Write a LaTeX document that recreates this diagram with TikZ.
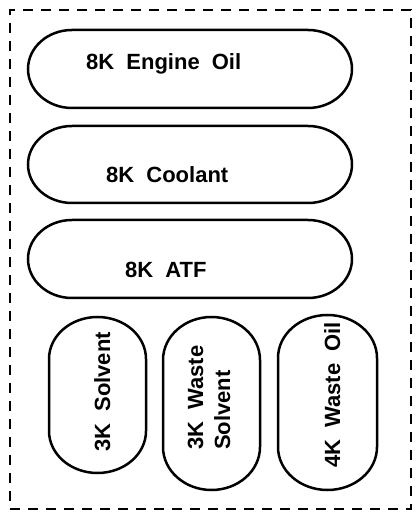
\documentclass[tikz,border=0pt]{standalone}
\usepackage{fontspec}
\setmainfont{Liberation Sans}
\usetikzlibrary{calc}
\newcommand{\tankfont}{\bfseries\fontsize{22}{27}\selectfont\spaceskip 0.55em plus 0.1em\relax}
\tikzset{
  frame/.style={draw,line width=2.8pt,dash pattern=on 10pt off 8pt,inner sep=0pt,outer sep=0pt},
  tank/.style={inner sep=0pt,outer sep=0pt},
  tankline/.style={line width=2.5pt},
  tanklabel/.style={inner sep=0pt,font=\tankfont}
}
% outline of a tank: node name, end x radius, end y radius
\newcommand{\tankoutline}[3]{%
  \draw[tankline] ($(#1.north west)+(#2pt,0)$) -- ($(#1.north east)+(-#2pt,0)$)
    arc[start angle=90,end angle=0,x radius=#2pt,y radius=#3pt]
    -- ($(#1.south east)+(0,#3pt)$)
    arc[start angle=0,end angle=-90,x radius=#2pt,y radius=#3pt]
    -- ($(#1.south west)+(#2pt,0)$)
    arc[start angle=270,end angle=180,x radius=#2pt,y radius=#3pt]
    -- ($(#1.north west)+(0,-#3pt)$)
    arc[start angle=180,end angle=90,x radius=#2pt,y radius=#3pt] -- cycle;}
\begin{document}
\begin{tikzpicture}[x=1pt,y=1pt]
  \useasboundingbox (0,0) rectangle (417,518);
  \node[frame,minimum width=401pt,minimum height=499pt] (box) at (210.5,258.5) {};
  % large tanks
  \node[tank,minimum width=324pt,minimum height=78pt] (t1) at (190,449) {};
  \node[tank,minimum width=324pt,minimum height=77pt] (t2) at (190,353.5) {};
  \node[tank,minimum width=324pt,minimum height=78pt] (t3) at (190,259) {};
  \tankoutline{t1}{44}{39}
  \tankoutline{t2}{44}{38.5}
  \tankoutline{t3}{44}{39}
  \node[tanklabel,anchor=base west] (l1) at (86,448) {8K Engine Oil};
  \node[tanklabel,anchor=base west] (l2) at (106,335) {8K Coolant};
  \node[tanklabel,anchor=base west] (l3) at (125,240) {8K ATF};
  % small tanks
  \node[tank,minimum width=97pt,minimum height=156pt] (s1) at (97.5,123) {};
  \node[tank,minimum width=97pt,minimum height=173pt] (s2) at (211.5,114.5) {};
  \node[tank,minimum width=99pt,minimum height=175pt] (s3) at (327.5,115.5) {};
  \tankoutline{s1}{48.5}{42}
  \tankoutline{s2}{48.5}{43}
  \tankoutline{s3}{49.5}{43}
  \node[tanklabel,rotate=90,anchor=base west] (l4) at (110,66) {3K Solvent};
  \node[tanklabel,rotate=90,anchor=base west,align=left] (l5) at (230,68) {3K Waste\\Solvent};
  \node[tanklabel,rotate=90,anchor=base west] (l6) at (340,50) {4K Waste Oil};
\end{tikzpicture}
\end{document}
